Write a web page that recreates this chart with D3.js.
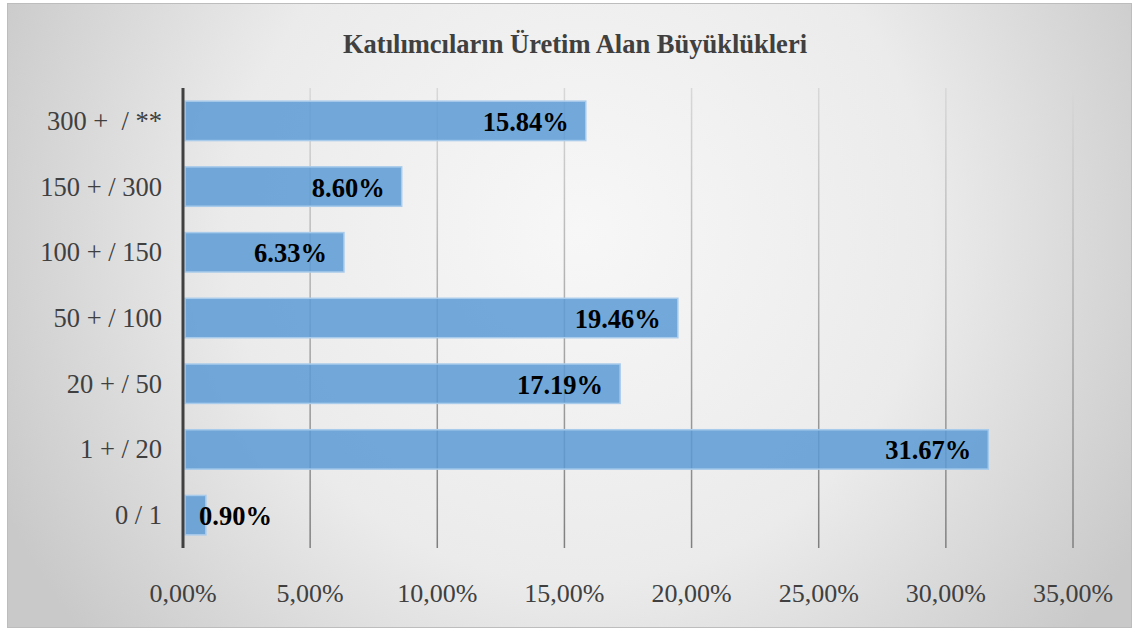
<!DOCTYPE html>
<html>
<head>
  <meta charset="utf-8">
  <title>Katılımcıların Üretim Alan Büyüklükleri</title>
  <script src="https://cdnjs.cloudflare.com/ajax/libs/d3/7.8.5/d3.min.js"></script>
  <style>
    html, body { margin: 0; padding: 0; background: #fff; }
    svg { display: block; }
  </style>
</head>
<body>
  <svg id="chart"></svg>
  <script>
    // data, top row first
    const categories = ['300 +  / **', '150 + / 300', '100 + / 150', '50 + / 100', '20 + / 50', '1 + / 20', '0 / 1']
    const values = [15.84, 8.60, 6.33, 19.46, 17.19, 31.67, 0.90]
    const tickValues = [0, 5, 10, 15, 20, 25, 30, 35]

    const width = 1136
    const height = 632
    const margin = { top: 88, right: 63, bottom: 84, left: 183 }
    const serif = '"Liberation Serif", "Times New Roman", serif'

    const svg = d3.select('#chart').attr('width', width).attr('height', height)
    const defs = svg.append('defs')

    const bg = defs.append('radialGradient').attr('id', 'bg')
      .attr('gradientUnits', 'userSpaceOnUse')
      .attr('cx', 580).attr('cy', 230).attr('r', 640)
    bg.append('stop').attr('offset', '0%').attr('stop-color', '#f7f7f7')
    bg.append('stop').attr('offset', '55%').attr('stop-color', '#ebebeb')
    bg.append('stop').attr('offset', '100%').attr('stop-color', '#c9c9c9')

    const grid = defs.append('linearGradient').attr('id', 'grid')
      .attr('gradientUnits', 'userSpaceOnUse')
      .attr('x1', 0).attr('y1', margin.top).attr('x2', 0).attr('y2', height - margin.bottom)
    grid.append('stop').attr('offset', '0%').attr('stop-color', '#d8d8d8')
    grid.append('stop').attr('offset', '100%').attr('stop-color', '#7f7f7f')

    svg.append('rect')
      .attr('x', 7.5).attr('y', 3.5).attr('width', 1124).attr('height', 624)
      .attr('fill', 'url(#bg)').attr('stroke', '#bdbdbd')

    const x = d3.scaleLinear().domain([0, 35]).range([margin.left, width - margin.right])
    const y = d3.scaleBand().domain(categories)
      .range([margin.top, height - margin.bottom]).paddingInner(0.4).paddingOuter(0.2)

    svg.append('text')
      .attr('x', 575).attr('y', 53).attr('text-anchor', 'middle')
      .attr('font-family', serif).attr('font-weight', 'bold').attr('font-size', 26.5)
      .attr('fill', '#404040')
      .text('Katılımcıların Üretim Alan Büyüklükleri')

    // gridlines
    svg.append('g').selectAll('line').data(tickValues.slice(1)).join('line')
      .attr('x1', d => x(d)).attr('x2', d => x(d))
      .attr('y1', margin.top).attr('y2', height - margin.bottom)
      .attr('stroke', 'url(#grid)').attr('stroke-width', 1.5)

    // x tick labels
    svg.append('g').selectAll('text').data(tickValues).join('text')
      .attr('x', d => x(d)).attr('y', 602).attr('text-anchor', 'middle')
      .attr('font-family', serif).attr('font-size', 26).attr('fill', '#404040')
      .text(d => d.toFixed(2).replace('.', ',') + '%')

    // bars
    svg.append('g').selectAll('rect').data(values).join('rect')
      .attr('x', x(0) + 2)
      .attr('y', (d, i) => y(categories[i]))
      .attr('width', d => x(d) - x(0) - 2)
      .attr('height', y.bandwidth())
      .attr('fill', '#5b9bd5').attr('fill-opacity', 0.85)
      .attr('stroke', '#a9cbeb').attr('stroke-width', 1.5)

    // value labels
    const labels = svg.append('g').selectAll('text').data(values).join('text')
      .attr('y', (d, i) => y(categories[i]) + y.bandwidth() / 2 + 10)
      .attr('font-family', serif).attr('font-weight', 'bold').attr('font-size', 26.5)
      .attr('fill', '#000')
      .text(d => d.toFixed(2) + '%')
    labels.each(function (d) {
      const w = this.getComputedTextLength()
      const end = x(d) - 17
      const t = d3.select(this)
      if (end - w < x(0) + 10) t.attr('x', x(0) + 16).attr('text-anchor', 'start')
      else t.attr('x', end).attr('text-anchor', 'end')
    })

    // category labels
    svg.append('g').selectAll('text').data(categories).join('text')
      .attr('x', 162).attr('y', d => y(d) + y.bandwidth() / 2 + 9)
      .attr('text-anchor', 'end').attr('xml:space', 'preserve')
      .style('white-space', 'pre')
      .attr('font-family', serif).attr('font-size', 26.5).attr('fill', '#404040')
      .text(d => d)

    // vertical axis line
    svg.append('line')
      .attr('x1', x(0)).attr('x2', x(0))
      .attr('y1', margin.top).attr('y2', height - margin.bottom)
      .attr('stroke', '#404040').attr('stroke-width', 3)
  </script>
</body>
</html>
